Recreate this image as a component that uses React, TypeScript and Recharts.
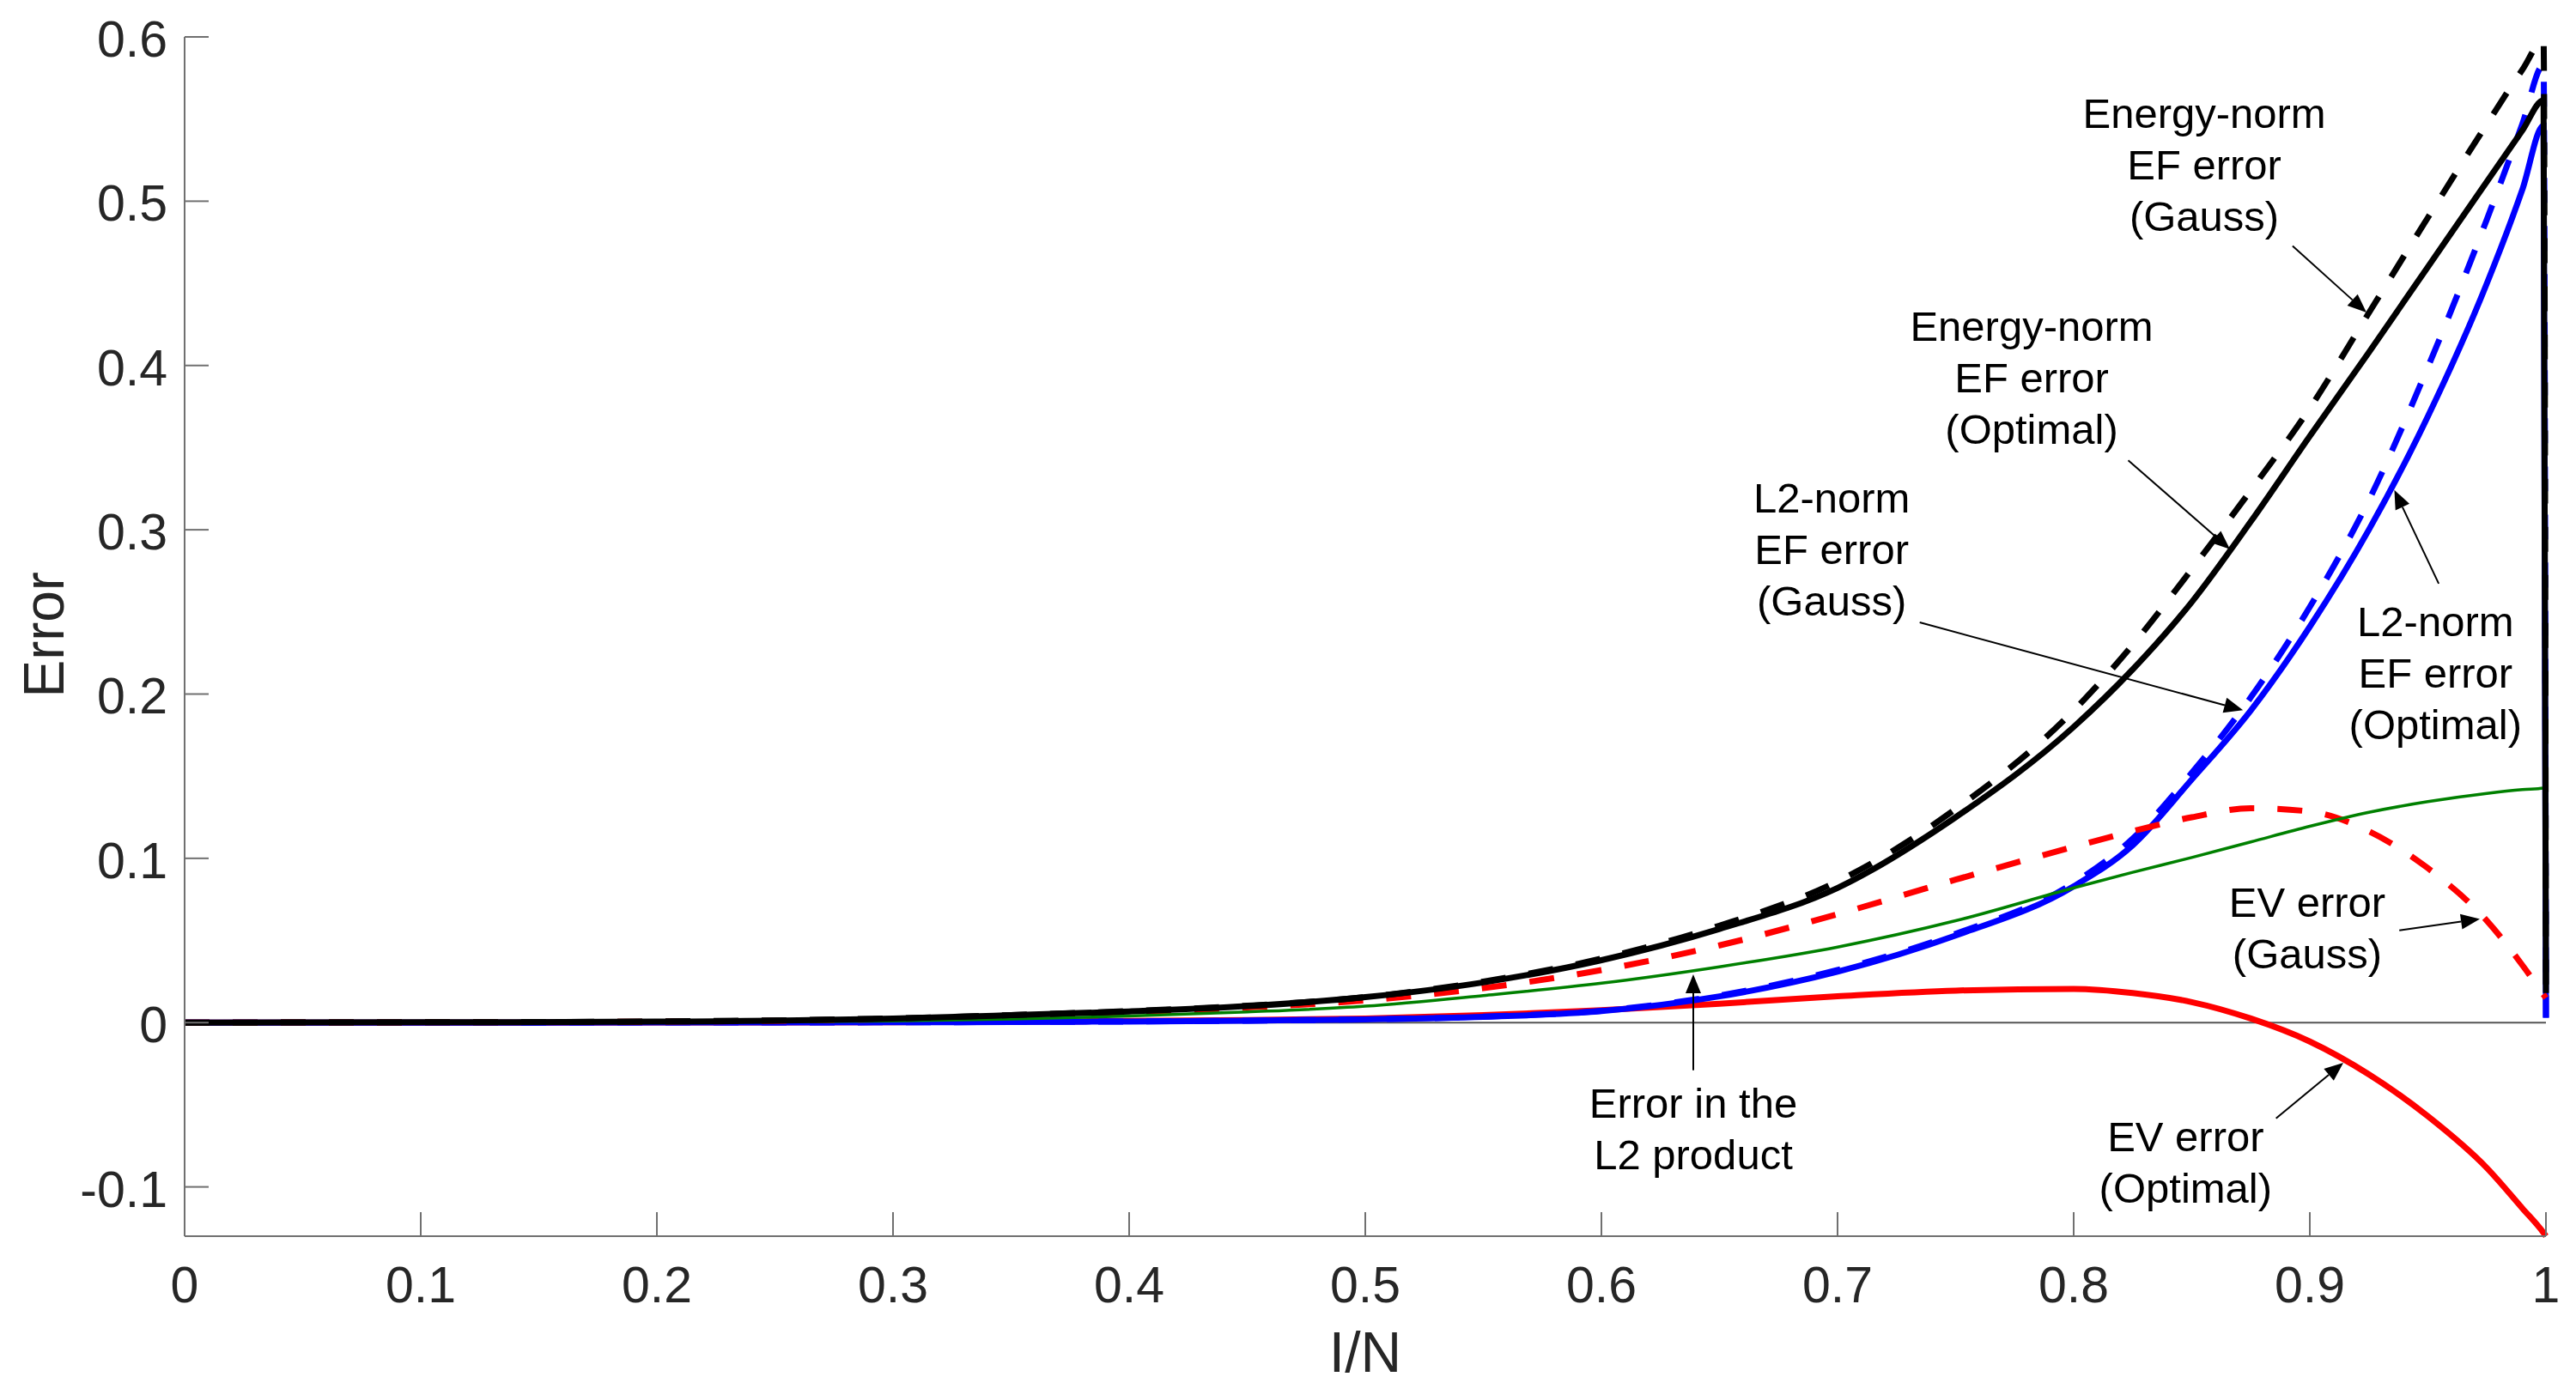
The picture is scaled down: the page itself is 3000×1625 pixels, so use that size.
import {
  LineChart,
  Line,
  XAxis,
  YAxis,
  ReferenceLine,
  ReferenceDot,
} from "recharts";

// I/N sample positions (denser near the end, where the curves turn sharply)
const X = [
  0, 0.1, 0.2, 0.3, 0.35, 0.4, 0.45, 0.5, 0.55, 0.6, 0.65, 0.7, 0.75, 0.8,
  0.825, 0.85, 0.875, 0.9, 0.925, 0.95, 0.975, 0.99, 0.999, 1,
];

// Energy-norm EF error (Gauss), black dashed
const EN_GAUSS = [
  0, 0.0002, 0.0007, 0.0026, 0.0046, 0.007, 0.0103, 0.0155, 0.025, 0.039,
  0.059, 0.086, 0.13, 0.19, 0.23, 0.276, 0.324, 0.374, 0.432, 0.49, 0.547,
  0.58, 0.598, 0.018,
];
// Energy-norm EF error (Optimal), black solid
const EN_OPT = [
  0, 0.0002, 0.0006, 0.0025, 0.0045, 0.0068, 0.01, 0.0155, 0.0245, 0.038,
  0.057, 0.082, 0.125, 0.18, 0.215, 0.256, 0.305, 0.357, 0.408, 0.46, 0.512,
  0.543, 0.5615, 0.018,
];
// L2-norm EF error (Gauss), blue dashed
const L2_GAUSS = [
  0, 0, 0.0001, 0.0002, 0.0004, 0.0007, 0.0012, 0.002, 0.0036, 0.0072,
  0.0165, 0.032, 0.054, 0.085, 0.112, 0.152, 0.198, 0.253, 0.318, 0.399,
  0.489, 0.547, 0.583, 0.003,
];
// L2-norm EF error (Optimal), blue solid
const L2_OPT = [
  0, 0, 0.0001, 0.0002, 0.0004, 0.0007, 0.0012, 0.002, 0.0035, 0.007, 0.016,
  0.031, 0.053, 0.083, 0.108, 0.148, 0.19, 0.241, 0.3, 0.369, 0.45, 0.507,
  0.546, 0.003,
];
// EV error (Gauss), red dashed
const EV_GAUSS = [
  0, 0.0002, 0.0006, 0.0022, 0.004, 0.0062, 0.0092, 0.0135, 0.021, 0.032,
  0.047, 0.066, 0.087, 0.107, 0.1165, 0.125, 0.1305, 0.1285, 0.1165, 0.094,
  0.062, 0.035, 0.017, 0.015,
];
// EV error (Optimal), red solid
const EV_OPT = [
  0, 0, 0.0001, 0.0003, 0.0006, 0.001, 0.0015, 0.0025, 0.0045, 0.0075,
  0.0115, 0.016, 0.0195, 0.0205, 0.018, 0.0125, 0.0025, -0.0115, -0.0315,
  -0.057, -0.0885, -0.113, -0.128, -0.13,
];
// Error in the L2 product, green
const L2_PROD = [
  0, 0.0001, 0.0003, 0.001, 0.0022, 0.004, 0.0065, 0.01, 0.0165, 0.024,
  0.034, 0.046, 0.062, 0.082, 0.0915, 0.1005, 0.11, 0.1195, 0.128, 0.1345,
  0.1395, 0.1418, 0.1428, 0.143,
];

const X_TICKS = [0, 0.1, 0.2, 0.3, 0.4, 0.5, 0.6, 0.7, 0.8, 0.9, 1];
const Y_TICKS = [-0.1, 0, 0.1, 0.2, 0.3, 0.4, 0.5, 0.6];

const data = X.map((x, i) => ({
  x,
  enGauss: EN_GAUSS[i],
  enOpt: EN_OPT[i],
  l2Gauss: L2_GAUSS[i],
  l2Opt: L2_OPT[i],
  evGauss: EV_GAUSS[i],
  evOpt: EV_OPT[i],
  l2Prod: L2_PROD[i],
}));

// text callouts: label anchor (centre, first baseline) and arrow tail -> tip, in data units
const NOTES = [
  { lines: ["Energy-norm", "EF error", "(Gauss)"], at: [0.8553, 0.5446], arrow: [[0.8927, 0.4728], [0.924, 0.4322]] },
  { lines: ["Energy-norm", "EF error", "(Optimal)"], at: [0.7822, 0.415], arrow: [[0.8231, 0.3422], [0.8662, 0.2882]] },
  { lines: ["L2-norm", "EF error", "(Gauss)"], at: [0.6975, 0.3105], arrow: [[0.7348, 0.2436], [0.8717, 0.1902]] },
  { lines: ["L2-norm", "EF error", "(Optimal)"], at: [0.9532, 0.2352], arrow: [[0.9546, 0.2672], [0.9358, 0.3242]] },
  { lines: ["EV error", "(Gauss)"], at: [0.8989, 0.0642], arrow: [[0.9379, 0.0561], [0.972, 0.0631]] },
  { lines: ["EV error", "(Optimal)"], at: [0.8474, -0.0781], arrow: [[0.8857, -0.0583], [0.9142, -0.0244]] },
  { lines: ["Error in the", "L2 product"], at: [0.6389, -0.0577], arrow: [[0.6389, -0.029], [0.6389, 0.0294]] },
];

const FONT = "'Liberation Sans', Arial, Helvetica, sans-serif";
const AXIS = "#707070";
const INK = "#262626";
const TICK_LEN = 28;

function BottomTick(props: any) {
  const { x, y, payload } = props;
  return (
    <g>
      <line x1={x} y1={y} x2={x} y2={y - TICK_LEN} stroke={AXIS} strokeWidth={2} />
      <text x={x} y={y + 77} textAnchor="middle" fontSize={59} fontFamily={FONT} fill={INK}>
        {String(payload.value)}
      </text>
    </g>
  );
}

function TopTick(props: any) {
  const { x, y } = props;
  return <line x1={x} y1={y} x2={x} y2={y + TICK_LEN} stroke={AXIS} strokeWidth={2} />;
}

function LeftTick(props: any) {
  const { x, y, payload } = props;
  return (
    <g>
      <line x1={x} y1={y} x2={x + TICK_LEN} y2={y} stroke={AXIS} strokeWidth={2} />
      <text x={x - 20} y={y + 23} textAnchor="end" fontSize={59} fontFamily={FONT} fill={INK}>
        {String(payload.value)}
      </text>
    </g>
  );
}

function RightTick(props: any) {
  const { x, y } = props;
  return <line x1={x} y1={y} x2={x - TICK_LEN} y2={y} stroke={AXIS} strokeWidth={2} />;
}

function Arrow(props: any) {
  const { x1, y1, x2, y2 } = props;
  const dx = x2 - x1;
  const dy = y2 - y1;
  const len = Math.sqrt(dx * dx + dy * dy) || 1;
  const ux = dx / len;
  const uy = dy / len;
  const head = 22;
  const half = 9;
  const bx = x2 - ux * head;
  const by = y2 - uy * head;
  const pts = `${x2},${y2} ${bx - uy * half},${by + ux * half} ${bx + uy * half},${by - ux * half}`;
  return (
    <g>
      <line x1={x1} y1={y1} x2={bx} y2={by} stroke="#000" strokeWidth={2} />
      <polygon points={pts} fill="#000" />
    </g>
  );
}

function noteText(lines: string[]) {
  return (p: any) => (
    <text x={p.cx} y={p.cy} textAnchor="middle" fontSize={49} fontFamily={FONT} fill="#000">
      {lines.map((t, i) => (
        <tspan key={t} x={p.cx} dy={i === 0 ? 0 : 60}>
          {t}
        </tspan>
      ))}
    </text>
  );
}

export default function App() {
  return (
    <div style={{ position: "absolute", left: 0, top: 0, width: 3000, height: 1625, background: "#fff" }}>
      <LineChart width={3000} height={1625} data={data} margin={{ top: 43, right: 35, left: 15, bottom: 0 }}>
        <XAxis
          dataKey="x"
          type="number"
          domain={[0, 1]}
          ticks={X_TICKS}
          height={185}
          stroke={AXIS}
          strokeWidth={2}
          tickLine={false}
          tickSize={0}
          tickMargin={0}
          tick={BottomTick}
          interval={0}
          label={{
            content: (p: any) => {
              const vb = p.viewBox || {};
              return (
                <text x={vb.x + vb.width / 2} y={vb.y + 158} textAnchor="middle" fontSize={66} fontFamily={FONT} fill={INK}>
                  I/N
                </text>
              );
            },
          }}
        />
        <XAxis
          xAxisId="top"
          orientation="top"
          dataKey="x"
          type="number"
          domain={[0, 1]}
          allowDataOverflow
          ticks={X_TICKS}
          height={0}
          stroke={AXIS}
          strokeWidth={2}
          tickLine={false}
          tickSize={0}
          tickMargin={0}
          tick={TopTick}
          interval={0}
        />
        <YAxis
          type="number"
          domain={[-0.13, 0.6]}
          ticks={Y_TICKS}
          width={200}
          stroke={AXIS}
          strokeWidth={2}
          tickLine={false}
          tickSize={0}
          tickMargin={0}
          tick={LeftTick}
          interval={0}
          label={{
            content: (p: any) => {
              const vb = p.viewBox || {};
              const cx = vb.x + 59;
              const cy = vb.y + vb.height / 2 - 2;
              return (
                <text x={cx} y={cy} transform={`rotate(-90, ${cx}, ${cy})`} textAnchor="middle" fontSize={66} fontFamily={FONT} fill={INK}>
                  Error
                </text>
              );
            },
          }}
        />
        <YAxis
          yAxisId="right"
          orientation="right"
          type="number"
          domain={[-0.13, 0.6]}
          allowDataOverflow
          ticks={Y_TICKS}
          width={0}
          stroke={AXIS}
          strokeWidth={2}
          tickLine={false}
          tickSize={0}
          tickMargin={0}
          tick={RightTick}
          interval={0}
        />

        <ReferenceLine y={0} stroke="#555" strokeWidth={2} />

        <Line type="monotone" dataKey="evOpt" stroke="#ff0000" strokeWidth={7} dot={false} activeDot={false} isAnimationActive={false} />
        <Line type="monotone" dataKey="l2Opt" stroke="#0000ff" strokeWidth={7} dot={false} activeDot={false} isAnimationActive={false} />
        <Line type="monotone" dataKey="l2Gauss" stroke="#0000ff" strokeWidth={7} strokeDasharray="29 27" dot={false} activeDot={false} isAnimationActive={false} />
        <Line type="monotone" dataKey="evGauss" stroke="#ff0000" strokeWidth={7} strokeDasharray="29 27" dot={false} activeDot={false} isAnimationActive={false} />
        <Line type="monotone" dataKey="l2Prod" stroke="#008000" strokeWidth={3.5} dot={false} activeDot={false} isAnimationActive={false} />
        <Line type="monotone" dataKey="enOpt" stroke="#000000" strokeWidth={7} dot={false} activeDot={false} isAnimationActive={false} />
        <Line type="monotone" dataKey="enGauss" stroke="#000000" strokeWidth={7} strokeDasharray="29 27" dot={false} activeDot={false} isAnimationActive={false} />

        {NOTES.map((n) => (
          <ReferenceLine
            key={`a-${n.lines.join(" ")}`}
            segment={[
              { x: n.arrow[0][0], y: n.arrow[0][1] },
              { x: n.arrow[1][0], y: n.arrow[1][1] },
            ]}
            shape={Arrow}
          />
        ))}
        {NOTES.map((n) => (
          <ReferenceDot key={`t-${n.lines.join(" ")}`} x={n.at[0]} y={n.at[1]} r={0} shape={noteText(n.lines)} />
        ))}
      </LineChart>
    </div>
  );
}
